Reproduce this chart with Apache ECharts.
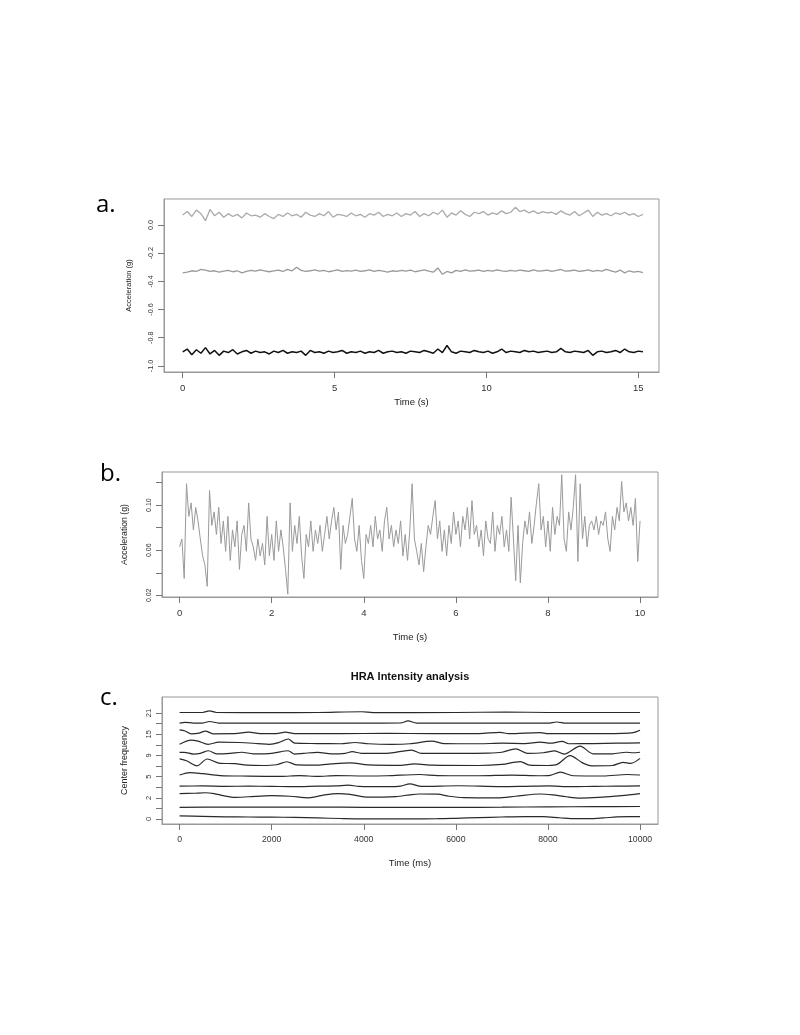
<!DOCTYPE html>
<html><head><meta charset="utf-8">
<script src="https://cdn.jsdelivr.net/npm/echarts@6/dist/echarts.min.js"></script>
<style>html,body{margin:0;padding:0;background:#fff}#c{width:800px;height:1035px}</style>
</head><body><div id="c"></div>
<script>
// ---------- Panel a: acceleration, three axes, sampled every 0.15 s ----------
const A_DT = 0.15;
const A_TOP = [
0.070,0.095,0.060,0.105,0.080,0.030,0.110,0.065,0.090,0.055,
0.080,0.060,0.075,0.050,0.085,0.065,0.070,0.055,0.080,0.060,
0.045,0.075,0.060,0.085,0.065,0.075,0.055,0.090,0.070,0.060,
0.080,0.065,0.095,0.055,0.075,0.070,0.060,0.085,0.065,0.075,
0.055,0.080,0.070,0.090,0.060,0.075,0.065,0.085,0.060,0.080,
0.070,0.095,0.060,0.080,0.065,0.090,0.075,0.105,0.055,0.085,
0.070,0.100,0.075,0.060,0.090,0.080,0.095,0.070,0.085,0.075,
0.100,0.080,0.090,0.125,0.095,0.105,0.085,0.100,0.080,0.095,
0.085,0.090,0.075,0.100,0.080,0.070,0.095,0.065,0.085,0.105,
0.060,0.090,0.070,0.080,0.065,0.085,0.075,0.090,0.070,0.080,
0.060,0.075];
const A_MID = [
-0.340,-0.335,-0.325,-0.330,-0.315,-0.320,-0.330,-0.325,-0.335,-0.328,
-0.322,-0.332,-0.325,-0.340,-0.330,-0.322,-0.328,-0.318,-0.325,-0.332,
-0.326,-0.320,-0.330,-0.315,-0.325,-0.300,-0.322,-0.330,-0.325,-0.318,
-0.328,-0.322,-0.332,-0.325,-0.318,-0.330,-0.324,-0.328,-0.320,-0.330,
-0.325,-0.318,-0.330,-0.322,-0.328,-0.335,-0.325,-0.330,-0.322,-0.328,
-0.320,-0.332,-0.325,-0.318,-0.328,-0.335,-0.305,-0.350,-0.330,-0.340,
-0.322,-0.330,-0.318,-0.328,-0.325,-0.320,-0.330,-0.322,-0.328,-0.318,
-0.326,-0.330,-0.322,-0.328,-0.320,-0.325,-0.330,-0.318,-0.328,-0.325,
-0.320,-0.330,-0.322,-0.316,-0.328,-0.325,-0.320,-0.330,-0.325,-0.318,
-0.330,-0.322,-0.328,-0.315,-0.325,-0.335,-0.320,-0.340,-0.325,-0.335,
-0.330,-0.338];
const A_BOT = [
-0.900,-0.880,-0.920,-0.885,-0.910,-0.870,-0.915,-0.890,-0.925,-0.895,
-0.905,-0.885,-0.915,-0.900,-0.890,-0.910,-0.895,-0.905,-0.900,-0.915,
-0.895,-0.905,-0.890,-0.910,-0.900,-0.905,-0.895,-0.925,-0.890,-0.905,
-0.900,-0.910,-0.895,-0.905,-0.900,-0.890,-0.910,-0.900,-0.905,-0.895,
-0.910,-0.900,-0.905,-0.890,-0.910,-0.900,-0.895,-0.905,-0.900,-0.910,
-0.895,-0.900,-0.905,-0.890,-0.900,-0.910,-0.880,-0.905,-0.855,-0.900,
-0.910,-0.895,-0.900,-0.905,-0.890,-0.900,-0.905,-0.895,-0.910,-0.900,
-0.880,-0.905,-0.895,-0.900,-0.905,-0.890,-0.900,-0.895,-0.905,-0.900,
-0.895,-0.905,-0.900,-0.875,-0.900,-0.905,-0.895,-0.900,-0.905,-0.890,
-0.925,-0.900,-0.895,-0.905,-0.900,-0.890,-0.905,-0.880,-0.900,-0.905,
-0.895,-0.900];
const A_XTICKS = [0,5,10,15];
const A_YTICKS = [-1.0,-0.8,-0.6,-0.4,-0.2,0.0];

// ---------- Panel b: one axis, sampled every 0.05 s ----------
const B_DT = 0.05;
const B_VAL = [
0.063,0.070,0.035,0.119,0.090,0.102,0.078,0.098,0.086,0.070,
0.055,0.047,0.028,0.113,0.082,0.094,0.074,0.098,0.066,0.086,
0.059,0.090,0.051,0.078,0.063,0.086,0.043,0.074,0.082,0.059,
0.102,0.070,0.063,0.051,0.070,0.055,0.066,0.047,0.090,0.055,
0.074,0.051,0.086,0.059,0.078,0.063,0.043,0.021,0.102,0.059,
0.082,0.066,0.090,0.055,0.035,0.074,0.063,0.086,0.059,0.078,
0.066,0.082,0.059,0.074,0.090,0.070,0.086,0.098,0.078,0.094,
0.043,0.082,0.066,0.074,0.090,0.106,0.070,0.059,0.082,0.051,
0.035,0.074,0.066,0.082,0.063,0.090,0.070,0.078,0.059,0.086,
0.098,0.070,0.082,0.063,0.078,0.066,0.086,0.055,0.074,0.051,
0.078,0.119,0.070,0.059,0.047,0.066,0.041,0.063,0.082,0.074,
0.090,0.104,0.070,0.086,0.059,0.078,0.055,0.082,0.066,0.094,
0.074,0.086,0.063,0.090,0.078,0.098,0.070,0.104,0.074,0.082,
0.063,0.078,0.055,0.086,0.070,0.066,0.094,0.059,0.082,0.074,
0.090,0.063,0.078,0.059,0.107,0.070,0.033,0.082,0.031,0.066,
0.086,0.074,0.094,0.066,0.082,0.102,0.119,0.078,0.090,0.063,
0.086,0.059,0.098,0.074,0.090,0.082,0.127,0.070,0.059,0.094,
0.078,0.098,0.127,0.050,0.119,0.070,0.090,0.063,0.082,0.086,
0.078,0.090,0.074,0.086,0.082,0.094,0.070,0.059,0.090,0.078,
0.098,0.086,0.121,0.094,0.102,0.086,0.098,0.082,0.106,0.050,
0.086];
const B_XTICKS = [0,2,4,6,8,10];
const B_YTICKS = [0.02,0.04,0.06,0.08,0.10,0.12];
const B_YLABELS = [0.02,0.06,0.10];

// ---------- Panel c: HRA intensity, [time ms, level] ----------
const C_F0 = [[0,0.3],[500,0.25],[1000,0.2],[1500,0.19],[2000,0.18],[2500,0.15],[3000,0.1],[3500,0.05],[4000,0.02],[5000,0.02],[5600,0.03],[6000,0.07],[6500,0.13],[7000,0.19],[7500,0.23],[7900,0.22],[8250,0.12],[8600,0.03],[8900,0.03],[9200,0.1],[9500,0.2],[9750,0.23],[10000,0.23]];
const C_F1 = [[0,1.1],[1000,1.13],[2000,1.12],[3000,1.13],[4000,1.1],[5000,1.1],[6000,1.1],[7000,1.12],[8000,1.15],[9000,1.16],[10000,1.18]];
const C_F2 = [[0,2.39],[300,2.43],[560,2.48],[750,2.4],[950,2.2],[1200,2.04],[1500,2.1],[2000,2.2],[2400,2.15],[2800,2.0],[3150,2.27],[3450,2.39],[3700,2.33],[4100,2.06],[4700,2.12],[5000,2.28],[5200,2.36],[5600,2.34],[5850,2.15],[6170,2.02],[6900,2.0],[7300,2.15],[7830,2.36],[8100,2.28],[8400,2.1],[8700,1.98],[9100,2.04],[9600,2.2],[10000,2.39]];
const C_F3 = [[0,3.1],[500,3.12],[1000,3.08],[1500,3.1],[2000,3.08],[2500,3.05],[3000,3.1],[3400,3.12],[3660,3.2],[3900,3.08],[4500,3.05],[4800,3.1],[5000,3.32],[5250,3.08],[6050,3.14],[7000,3.05],[7500,3.08],[8000,3.12],[8500,3.05],[9000,3.08],[9500,3.1],[10000,3.12]];
const C_F4 = [[0,4.15],[230,4.38],[500,4.28],[880,4.1],[1500,4.05],[2200,4.02],[2600,4.1],[3000,4.02],[3400,4.1],[4000,4.06],[4500,4.08],[5220,4.2],[5600,4.1],[6500,4.08],[7220,4.14],[7800,4.08],[8050,4.12],[8270,4.42],[8550,4.08],[9200,4.06],[9720,4.2],[10000,4.15]];
const C_F5 = [[0,5.68],[150,5.5],[380,5.02],[600,5.66],[850,5.28],[1200,5.22],[1460,5.09],[1800,5.05],[2100,5.12],[2330,5.4],[2550,5.1],[3000,5.08],[3300,5.2],[3700,5.3],[4100,5.1],[4800,5.06],[5100,5.2],[5500,5.08],[6500,5.05],[7000,5.15],[7400,5.42],[7600,5.08],[8000,5.05],[8200,5.15],[8480,5.98],[8750,5.3],[8950,5.02],[9400,5.05],[9630,5.35],[9800,5.25],[10000,5.72]];
const C_F6 = [[0,6.29],[100,6.29],[300,6.13],[450,6.2],[630,6.44],[800,6.15],[1100,6.2],[1350,6.3],[1600,6.15],[2000,6.2],[2360,6.44],[2500,6.13],[2700,6.2],[3000,6.28],[3300,6.15],[3600,6.2],[3750,6.35],[3950,6.2],[4500,6.2],[5040,6.5],[5250,6.2],[6000,6.2],[6700,6.22],[7000,6.3],[7300,6.62],[7550,6.2],[7900,6.25],[8150,6.42],[8350,6.12],[8700,6.88],[8980,6.15],[9400,6.15],[9700,6.3],[9850,6.25],[10000,6.3]];
const C_F7 = [[0,7.05],[250,7.45],[400,7.35],[620,7.05],[850,7.25],[1300,7.22],[1700,7.12],[1950,7.05],[2150,7.2],[2360,7.55],[2500,7.15],[3000,7.12],[3500,7.1],[3810,7.22],[4100,7.1],[4600,7.05],[5000,7.1],[5480,7.35],[5750,7.12],[6500,7.1],[7000,7.15],[7500,7.12],[7830,7.25],[8050,7.15],[8310,7.32],[8450,7.1],[9000,7.12],[9500,7.15],[10000,7.18]];
const C_F8 = [[0,8.4],[120,8.3],[250,8.04],[420,8.1],[560,8.3],[730,8.04],[1200,8.05],[1500,8.2],[1750,8.05],[2100,8.05],[2300,8.2],[2500,8.05],[3500,8.05],[4500,8.08],[5500,8.05],[6500,8.06],[6960,8.18],[7150,8.05],[7830,8.15],[8000,8.05],[9000,8.05],[9600,8.08],[9850,8.15],[10000,8.38]];
const C_F9 = [[0,9.05],[120,9.12],[300,9.05],[500,9.05],[650,9.2],[850,9.05],[2000,9.05],[3000,9.05],[4000,9.05],[4800,9.06],[4960,9.25],[5150,9.05],[6000,9.05],[7000,9.05],[8000,9.05],[8190,9.15],[8400,9.05],[10000,9.05]];
const C_F10 = [[0,10.05],[500,10.05],[650,10.2],[800,10.05],[2000,10.03],[3000,10.05],[3960,10.12],[4200,10.03],[6000,10.05],[7100,10.09],[8000,10.05],[9000,10.05],[10000,10.05]];
const C_LINES = [C_F0,C_F1,C_F2,C_F3,C_F4,C_F5,C_F6,C_F7,C_F8,C_F9,C_F10];
const C_XTICKS = [0,2000,4000,6000,8000,10000];
const C_YTICKS = [0,1,2,3,4,5,6,7,8,9,10];
const C_YLABEL_POS = [0,2,4,6,8,10];
const C_YLABEL_TXT = ['0','2','5','9','15','21'];

// ---------- build ----------
const FF = '"Liberation Sans", Arial, sans-serif';
const TICKC = '#777';
function xAx(gi, min, max, ticks, name, nameGap, fs, nfs) {
  return {
    type:'value', gridIndex:gi, min:min, max:max, position:'bottom',
    axisLine:{show:true, onZero:false, lineStyle:{color:'#999', width:1}},
    axisTick:{show:true, length:6, customValues:ticks, lineStyle:{color:TICKC}},
    axisLabel:{customValues:ticks, margin:11, fontSize:fs, color:'#333', fontFamily:FF, formatter:v => String(v)},
    splitLine:{show:false},
    name:name, nameLocation:'middle', nameGap:nameGap,
    nameTextStyle:{fontSize:nfs, color:'#222', fontFamily:FF}
  };
}
function yAx(gi, min, max, ticks, labels, fmt, name, nameGap, fs, nfs) {
  return {
    type:'value', gridIndex:gi, min:min, max:max, position:'left',
    axisLine:{show:true, onZero:false, lineStyle:{color:'#999', width:1}},
    axisTick:{show:true, length:6, customValues:ticks, lineStyle:{color:TICKC}},
    axisLabel:{customValues:labels, rotate:90, margin:9, fontSize:fs, color:'#333', fontFamily:FF, formatter:fmt},
    splitLine:{show:false},
    name:name, nameLocation:'middle', nameGap:nameGap, nameRotate:90,
    nameTextStyle:{fontSize:nfs, color:'#222', fontFamily:FF}
  };
}
const gridBase = {show:true, borderColor:'#999', borderWidth:1, backgroundColor:'transparent', containLabel:false};
const series = [];
function aSeries(arr, color, w) {
  series.push({type:'line', xAxisIndex:0, yAxisIndex:0, showSymbol:false, animation:false,
    data:arr.map((v,i)=>[i*A_DT, v]), lineStyle:{color:color, width:w}});
}
aSeries(A_TOP, '#aaaaaa', 1.3);
aSeries(A_MID, '#999999', 1.3);
aSeries(A_BOT, '#111111', 1.5);
series.push({type:'line', xAxisIndex:1, yAxisIndex:1, showSymbol:false, animation:false,
  data:B_VAL.map((v,i)=>[i*B_DT, v]), lineStyle:{color:'#9a9a9a', width:1}});
C_LINES.forEach(l => series.push({type:'line', xAxisIndex:2, yAxisIndex:2, showSymbol:false, animation:false,
  smooth:0.3, data:l, lineStyle:{color:'#2a2a2a', width:1.2}}));

const chart = echarts.init(document.getElementById('c'), null, {renderer:'canvas'});
chart.setOption({
  backgroundColor:'#fff',
  animation:false,
  grid:[
    Object.assign({left:164, top:199, width:495, height:173}, gridBase),
    Object.assign({left:162, top:472, width:496, height:125}, gridBase),
    Object.assign({left:162, top:697, width:496, height:127}, gridBase)
  ],
  xAxis:[
    xAx(0, -0.615, 15.68, A_XTICKS, 'Time (s)', 25, 9.5, 9.5),
    xAx(1, -0.382, 10.39, B_XTICKS, 'Time (s)', 35, 9.5, 9.5),
    xAx(2, -382, 10390, C_XTICKS, 'Time (ms)', 34, 8.7, 9.5)
  ],
  yAxis:[
    yAx(0, -1.043, 0.184, A_YTICKS, A_YTICKS, v => v.toFixed(1), 'Acceleration (g)', 31, 7.2, 7.5),
    yAx(1, 0.0185, 0.1294, B_YTICKS, B_YLABELS, v => v.toFixed(2), 'Acceleration (g)', 33, 7, 8.7),
    yAx(2, -0.47, 11.51, C_YTICKS, C_YLABEL_POS, v => C_YLABEL_TXT[C_YLABEL_POS.indexOf(Math.round(v))], 'Center frequency', 33, 7.5, 9)
  ],
  series:series,
  graphic:[
    {type:'text', x:96, y:193, style:{text:'a.', font:'24px "Open Sans", sans-serif', fill:'#000'}},
    {type:'text', x:100, y:462, style:{text:'b.', font:'24px "Open Sans", sans-serif', fill:'#000'}},
    {type:'text', x:100, y:686, style:{text:'c.', font:'24px "Open Sans", sans-serif', fill:'#000'}},
    {type:'text', x:410, y:677, style:{text:'HRA Intensity analysis', font:'bold 11px "Liberation Sans", Arial, sans-serif', fill:'#111', align:'center', verticalAlign:'middle'}}
  ]
});
</script></body></html>
